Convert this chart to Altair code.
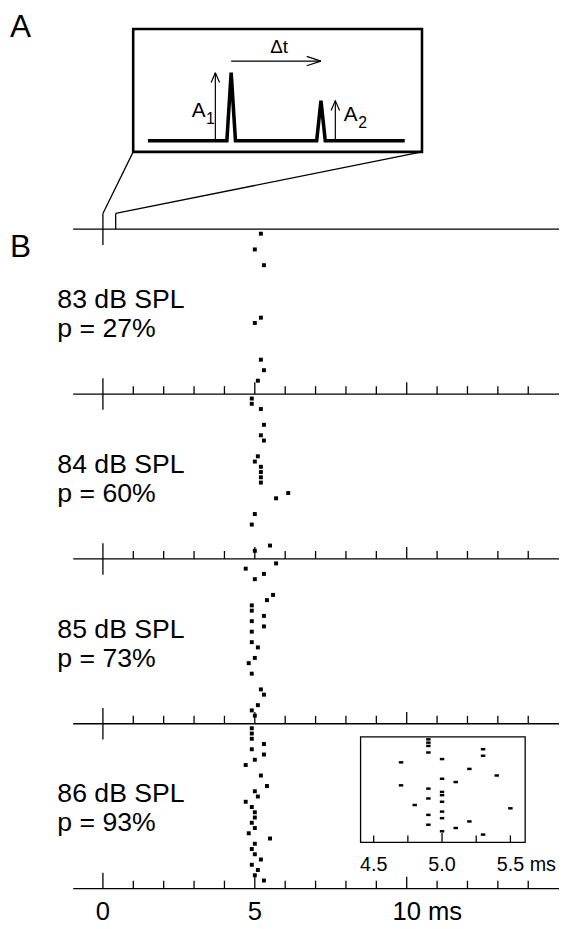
import altair as alt
import pandas as pd

# ---------------- data ----------------
ROW_LEVELS = ["83 dB SPL", "84 dB SPL", "85 dB SPL", "86 dB SPL"]
ROW_PROBS = ["p = 27%", "p = 60%", "p = 73%", "p = 93%"]

TRIALS_83 = [0, 3, 6, 16, 17, 24, 26, 28]
TIMES_83 = [5.2, 5.0, 5.3, 5.2, 5.0, 5.2, 5.3, 5.1]

TRIALS_84 = [0, 1, 2, 5, 7, 8, 11, 12, 13, 14, 15, 16, 18, 19, 22, 24, 28, 29]
TIMES_84 = [4.9, 4.9, 5.2, 5.3, 5.2, 5.3, 5.1, 5.0, 5.2, 5.2, 5.2, 5.2, 6.1, 5.7, 5.0, 4.9, 5.5, 5.0]

TRIALS_85 = [0, 1, 2, 3, 6, 7, 8, 9, 10, 11, 12, 13, 15, 16, 18, 19, 21, 24, 25, 27, 28, 29]
TIMES_85 = [5.7, 4.7, 5.3, 5.0, 5.6, 5.4, 4.9, 4.9, 5.3, 4.9, 5.3, 4.9, 4.9, 5.1, 5.0, 4.8, 4.9, 5.2, 5.3, 5.1, 4.9, 5.0]

TRIALS_86 = [0, 1, 2, 3, 4, 5, 6, 7, 9, 11, 12, 13, 14, 15, 16, 17, 18, 19, 20, 21, 22, 23, 24, 25, 26, 27, 28, 29]
TIMES_86 = [4.9, 4.9, 4.9, 5.3, 4.9, 5.3, 5.0, 4.7, 5.2, 5.4, 5.0, 5.1, 4.7, 4.9, 5.0, 5.0, 4.9, 5.0, 4.8, 5.5, 5.0, 4.9, 5.0, 5.2, 4.9, 5.1, 5.0, 5.3]

ROW_TRIALS = [TRIALS_83, TRIALS_84, TRIALS_85, TRIALS_86]
ROW_TIMES = [TIMES_83, TIMES_84, TIMES_85, TIMES_86]

X_MAJOR = [0, 5, 10]
X_MAJOR_LABELS = ["0", "5", "10"]
X_MINOR = [1, 2, 3, 4, 6, 7, 8, 9, 11, 12, 13, 14]
X_UNIT = "ms"

INSET_TICKS = [4.5, 4.75, 5.0, 5.25, 5.5]
INSET_LABEL_VALUES = [4.5, 5.0, 5.5]
INSET_LABELS = ["4.5", "5.0", "5.5"]

# schematic of the stimulus pair (pulse 1 at 0, pulse 2 at delta t = 1)
PULSE_T = [0.0, 1.0]
PULSE_AMP = [1.0, 0.59]
PULSE_HALF = 0.048
BASE_START, BASE_END = -0.927, 1.933
STIM_DUR = 0.42  # ms on raster axis covered by the zoom lines

FONT = "Liberation Sans"
W, H = 559, 921

# ---------------- scales ----------------
def sc(dom, rng):
    return alt.Scale(domain=dom, range=rng, nice=False, zero=False)

B_XD, B_XR = [0, 10], [96.3, 404.5]
B_YD, B_YR = [-0.86, 124.74], [217.7, 886.7]
A_XD, A_XR = [-1.091, 2.125], [127.0, 420.0]
A_YD, A_YR = [-0.162, 1.639], [139.3, 14.7]
I_XD, I_XR = [4.5, 5.5], [371.0, 509.7]
I_YD, I_YR = [0, 29], [735.3, 831.9]


def lin(v, d, r):
    return r[0] + (v - d[0]) / (d[1] - d[0]) * (r[1] - r[0])


def inv(p, d, r):
    return d[0] + (p - r[0]) / (r[1] - r[0]) * (d[1] - d[0])


ROW_PITCH = 31.4
AXIS_U = [B_YD[0] + ROW_PITCH * r for r in range(5)]


def bx(f):
    return alt.X(f, type="quantitative", scale=sc(B_XD, B_XR), axis=None)


def by(f):
    return alt.Y(f, type="quantitative", scale=sc(B_YD, B_YR), axis=None)


def ax(f):
    return alt.X(f, type="quantitative", scale=sc(A_XD, A_XR), axis=None)


def ay(f):
    return alt.Y(f, type="quantitative", scale=sc(A_YD, A_YR), axis=None)


def ix(f):
    return alt.X(f, type="quantitative", scale=sc(I_XD, I_XR), axis=None)


def iy(f):
    return alt.Y(f, type="quantitative", scale=sc(I_YD, I_YR), axis=None)


# ---------------- panel B ----------------
axes_df = pd.DataFrame({"x": [-0.98] * 5, "x2": [15.5] * 5, "y": AXIS_U})
b_axes = alt.Chart(axes_df).mark_rule(color="black", strokeWidth=1.3).encode(
    x=bx("x"), x2="x2", y=by("y"))

tick_rows = []
for r in range(1, 5):
    for t in X_MINOR:
        tick_rows.append({"x": t, "y": AXIS_U[r] - 1.5, "y2": AXIS_U[r]})
    for t in X_MAJOR[1:]:
        tick_rows.append({"x": t, "y": AXIS_U[r] - 2.25, "y2": AXIS_U[r]})
for r in range(5):
    tick_rows.append({"x": 0, "y": AXIS_U[r] - 3.0,
                      "y2": AXIS_U[r] + (3.0 if r < 4 else 0.0)})
b_ticks = alt.Chart(pd.DataFrame(tick_rows)).mark_rule(color="black", strokeWidth=1.3).encode(
    x=bx("x"), y=by("y"), y2="y2")

dot_rows = []
for r in range(4):
    for k, t in zip(ROW_TRIALS[r], ROW_TIMES[r]):
        dot_rows.append({"t": t, "u": ROW_PITCH * r + k})
b_dots = alt.Chart(pd.DataFrame(dot_rows)).mark_square(
    color="black", size=16, opacity=1).encode(x=bx("t"), y=by("u"))

lab_rows = []
for r in range(4):
    lab_rows.append({"x": -1.50, "y": AXIS_U[r] + 15.0, "text": ROW_LEVELS[r]})
    lab_rows.append({"x": -1.50, "y": AXIS_U[r] + 20.5, "text": ROW_PROBS[r]})
b_rowlab = alt.Chart(pd.DataFrame(lab_rows)).mark_text(
    font=FONT, fontSize=27, align="left", baseline="alphabetic", color="black").encode(
    x=bx("x"), y=by("y"), text="text:N")

xl_df = pd.DataFrame({"x": X_MAJOR, "y": [AXIS_U[4] + 5.95] * 3, "text": X_MAJOR_LABELS})
b_xlab = alt.Chart(xl_df).mark_text(
    font=FONT, fontSize=26, align="center", baseline="alphabetic", color="black").encode(
    x=bx("x"), y=by("y"), text="text:N")
unit_df = pd.DataFrame({"x": [X_MAJOR[-1]], "y": [AXIS_U[4] + 5.95], "text": [X_UNIT]})
b_unit = alt.Chart(unit_df).mark_text(
    font=FONT, fontSize=26, align="left", baseline="alphabetic", dx=21.5, color="black").encode(
    x=bx("x"), y=by("y"), text="text:N")

blab_df = pd.DataFrame({"x": [-3.06], "y": [4.5], "text": ["B"]})
b_panel = alt.Chart(blab_df).mark_text(
    font=FONT, fontSize=32, align="left", baseline="alphabetic", color="black").encode(
    x=bx("x"), y=by("y"), text="text:N")

B = alt.layer(b_axes, b_ticks, b_dots, b_rowlab, b_xlab, b_unit, b_panel)

# ---------------- panel A ----------------
box_df = pd.DataFrame({"x": [A_XD[0]], "x2": [A_XD[1]], "y": [A_YD[0]], "y2": [A_YD[1]]})
a_box = alt.Chart(box_df).mark_rect(fillOpacity=0, stroke="black", strokeWidth=2.6).encode(
    x=ax("x"), x2="x2", y=ay("y"), y2="y2")

wx = [BASE_START]
wy = [0.0]
for t, a in zip(PULSE_T, PULSE_AMP):
    wx += [t - PULSE_HALF, t, t + PULSE_HALF]
    wy += [0.0, a, 0.0]
wx.append(BASE_END)
wy.append(0.0)
wave_df = pd.DataFrame({"x": wx, "y": wy, "o": list(range(len(wx)))})
a_wave = alt.Chart(wave_df).mark_line(color="black", strokeWidth=3.6, strokeJoin="miter",
                                      strokeMiterLimit=3).encode(
    x=ax("x"), y=ay("y"), order="o:Q")

# arrows: A1, A2 (vertical), delta t (horizontal)
segs = []
hx, hy = 0.047, 0.145     # head of vertical arrows
for xpos, top in [(-0.176, PULSE_AMP[0]), (1.16, PULSE_AMP[1])]:
    segs.append({"x": xpos, "y": 0.0, "x2": xpos, "y2": top})
    segs.append({"x": xpos - hx, "y": top - hy, "x2": xpos, "y2": top})
    segs.append({"x": xpos + hx, "y": top - hy, "x2": xpos, "y2": top})
dty = 1.17
segs.append({"x": PULSE_T[0], "y": dty, "x2": PULSE_T[1], "y2": dty})
segs.append({"x": PULSE_T[1] - 0.159, "y": dty + 0.068, "x2": PULSE_T[1], "y2": dty})
segs.append({"x": PULSE_T[1] - 0.159, "y": dty - 0.068, "x2": PULSE_T[1], "y2": dty})
a_arrows = alt.Chart(pd.DataFrame(segs)).mark_rule(color="black", strokeWidth=1.2).encode(
    x=ax("x"), y=ay("y"), x2="x2", y2="y2")

# zoom connector lines from the box to the raster time axis
def b_to_a(t, u):
    px = lin(t, B_XD, B_XR)
    py = lin(u, B_YD, B_YR)
    return inv(px, A_XD, A_XR), inv(py, A_YD, A_YR)

lx, ly = b_to_a(0.0, AXIS_U[0] - 3.0)
rx, ry = b_to_a(STIM_DUR, AXIS_U[0] - 3.0)
rx2, ry2 = b_to_a(STIM_DUR, AXIS_U[0])
conn = [
    {"x": A_XD[0], "y": A_YD[0], "x2": lx, "y2": ly},
    {"x": A_XD[1], "y": A_YD[0], "x2": rx, "y2": ry},
    {"x": rx, "y": ry, "x2": rx2, "y2": ry2},
]
a_conn = alt.Chart(pd.DataFrame(conn)).mark_rule(color="black", strokeWidth=1.3).encode(
    x=ax("x"), y=ay("y"), x2="x2", y2="y2")

a_A1 = alt.Chart(pd.DataFrame({"x": [-0.285], "y": [0.35], "text": ["A"]})).mark_text(
    font=FONT, fontSize=21, align="right", baseline="alphabetic", color="black").encode(
    x=ax("x"), y=ay("y"), text="text:N")
a_A2 = alt.Chart(pd.DataFrame({"x": [1.255], "y": [0.29], "text": ["A"]})).mark_text(
    font=FONT, fontSize=21, align="left", baseline="alphabetic", color="black").encode(
    x=ax("x"), y=ay("y"), text="text:N")
sub_df = pd.DataFrame({"x": [-0.28, 1.415], "y": [0.245, 0.185], "text": ["1", "2"]})
a_sub = alt.Chart(sub_df).mark_text(
    font=FONT, fontSize=16, align="left", baseline="alphabetic", color="black").encode(
    x=ax("x"), y=ay("y"), text="text:N")
dt_df = pd.DataFrame({"x": [0.533], "y": [1.29], "text": ["\u0394t"]})
a_dt = alt.Chart(dt_df).mark_text(
    font=FONT, fontSize=19, align="center", baseline="alphabetic", color="black").encode(
    x=ax("x"), y=ay("y"), text="text:N")
alab_df = pd.DataFrame({"x": [-2.463], "y": [1.53], "text": ["A"]})
a_panel = alt.Chart(alab_df).mark_text(
    font=FONT, fontSize=32, align="left", baseline="alphabetic", color="black").encode(
    x=ax("x"), y=ay("y"), text="text:N")

A = alt.layer(a_box, a_wave, a_arrows, a_conn, a_A1, a_A2, a_sub, a_dt, a_panel)

# ---------------- inset ----------------
ibox_df = pd.DataFrame({"x": [4.404], "x2": [5.608], "y": [-0.78], "y2": [31.35]})
i_box = alt.Chart(ibox_df).mark_rect(fillOpacity=0, stroke="black", strokeWidth=1.3).encode(
    x=ix("x"), x2="x2", y=iy("y"), y2="y2")
it_df = pd.DataFrame({"x": INSET_TICKS,
                      "y": [31.35 - (2.8 if v == 5.0 else 2.1) for v in INSET_TICKS],
                      "y2": [31.35] * len(INSET_TICKS)})
i_ticks = alt.Chart(it_df).mark_rule(color="black", strokeWidth=1.3).encode(
    x=ix("x"), y=iy("y"), y2="y2")
idots_df = pd.DataFrame({"t": TIMES_86, "k": TRIALS_86})
i_dots = alt.Chart(idots_df).mark_tick(orient="horizontal", size=4.5, thickness=2.5,
                                       color="black", opacity=1).encode(
    x=ix("t"), y=iy("k"))
il_df = pd.DataFrame({"x": INSET_LABEL_VALUES, "y": [40.15] * 3, "text": INSET_LABELS})
i_lab = alt.Chart(il_df).mark_text(
    font=FONT, fontSize=20, align="center", baseline="alphabetic", color="black").encode(
    x=ix("x"), y=iy("y"), text="text:N")
iu_df = pd.DataFrame({"x": [INSET_LABEL_VALUES[-1]], "y": [40.15], "text": [X_UNIT]})
i_unit = alt.Chart(iu_df).mark_text(
    font=FONT, fontSize=20, align="left", baseline="alphabetic", dx=19.5, color="black").encode(
    x=ix("x"), y=iy("y"), text="text:N")

I = alt.layer(i_box, i_ticks, i_dots, i_lab, i_unit)

chart = alt.layer(A, B, I).resolve_scale(x="independent", y="independent").properties(
    width=W, height=H, padding=0, autosize=alt.AutoSizeParams(type="none"),
    background="white").configure_view(stroke=None)

chart.save("out.html", embed_options={"renderer": "svg", "actions": False})
